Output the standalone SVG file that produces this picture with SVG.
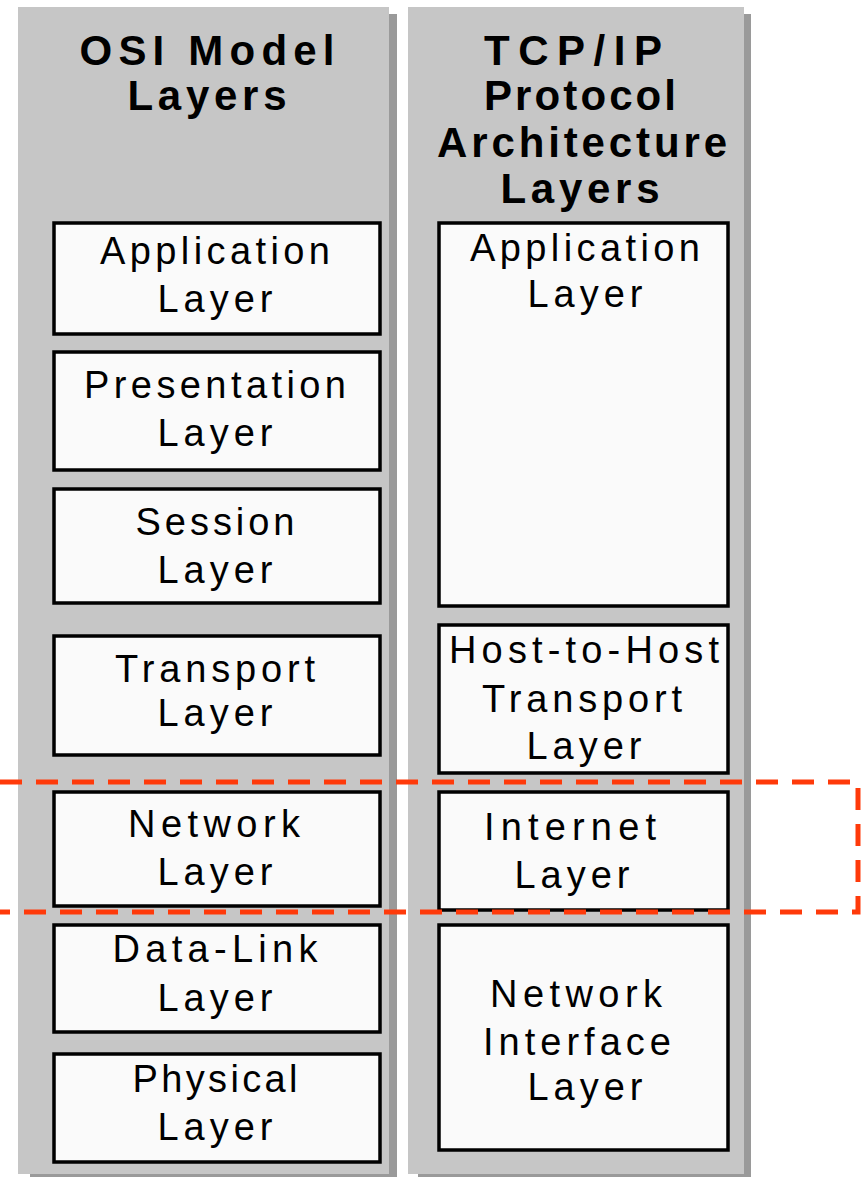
<svg xmlns="http://www.w3.org/2000/svg" width="865" height="1178" viewBox="0 0 865 1178">
<style>
.shadow{fill:#9a9a9a}
.panel{fill:#c6c6c6}
.box{fill:#fafafa;stroke:#000;stroke-width:3.5}
.t{font-family:"Liberation Sans",Arial,sans-serif;font-size:38px;fill:#000;text-anchor:middle}
.h{font-family:"Liberation Sans",Arial,sans-serif;font-size:42px;font-weight:bold;fill:#000;text-anchor:middle}
.dash{fill:none;stroke:#ff3a0a;stroke-width:5;stroke-dasharray:22 14}
</style>
<rect width="865" height="1178" fill="#fff"/>
<g id="osi-panel">
<rect class="shadow" x="30" y="14" width="367" height="1163"/>
<rect class="panel" x="18" y="7" width="371" height="1167"/>
<text class="h" x="207" y="65" textLength="255" lengthAdjust="spacing">OSI Model</text>
<text class="h" x="207" y="110" textLength="159" lengthAdjust="spacing">Layers</text>
</g>
<g id="tcp-panel">
<rect class="shadow" x="418" y="14" width="333" height="1163"/>
<rect class="panel" x="408" y="7" width="336" height="1167"/>
<text class="h" x="573" y="65" textLength="178" lengthAdjust="spacing">TCP/IP</text>
<text class="h" x="580" y="110" textLength="192" lengthAdjust="spacing">Protocol</text>
<text class="h" x="582" y="157" textLength="290" lengthAdjust="spacing">Architecture</text>
<text class="h" x="580" y="203" textLength="159" lengthAdjust="spacing">Layers</text>
</g>
<g id="osi-application">
<rect class="box" x="54" y="223" width="326" height="111"/>
<text class="t" x="215" y="264" textLength="230" lengthAdjust="spacing">Application</text>
<text class="t" x="215" y="312" textLength="115" lengthAdjust="spacing">Layer</text>
</g>
<g id="osi-presentation">
<rect class="box" x="54" y="352" width="326" height="118"/>
<text class="t" x="215" y="398" textLength="262" lengthAdjust="spacing">Presentation</text>
<text class="t" x="215" y="446" textLength="115" lengthAdjust="spacing">Layer</text>
</g>
<g id="osi-session">
<rect class="box" x="54" y="489" width="326" height="114"/>
<text class="t" x="215" y="535" textLength="159" lengthAdjust="spacing">Session</text>
<text class="t" x="215" y="583" textLength="115" lengthAdjust="spacing">Layer</text>
</g>
<g id="osi-transport">
<rect class="box" x="54" y="636" width="326" height="119"/>
<text class="t" x="215" y="682" textLength="200" lengthAdjust="spacing">Transport</text>
<text class="t" x="215" y="726" textLength="115" lengthAdjust="spacing">Layer</text>
</g>
<g id="osi-network">
<rect class="box" x="54" y="792" width="326" height="114"/>
<text class="t" x="214" y="837" textLength="172" lengthAdjust="spacing">Network</text>
<text class="t" x="215" y="885" textLength="115" lengthAdjust="spacing">Layer</text>
</g>
<g id="osi-datalink">
<rect class="box" x="54" y="925" width="326" height="107"/>
<text class="t" x="215" y="962" textLength="205" lengthAdjust="spacing">Data-Link</text>
<text class="t" x="215" y="1011" textLength="115" lengthAdjust="spacing">Layer</text>
</g>
<g id="osi-physical">
<rect class="box" x="54" y="1054" width="326" height="108"/>
<text class="t" x="215" y="1092" textLength="165" lengthAdjust="spacing">Physical</text>
<text class="t" x="215" y="1140" textLength="115" lengthAdjust="spacing">Layer</text>
</g>
<g id="tcp-application">
<rect class="box" x="439" y="223" width="289" height="383"/>
<text class="t" x="585" y="261" textLength="230" lengthAdjust="spacing">Application</text>
<text class="t" x="585" y="307" textLength="115" lengthAdjust="spacing">Layer</text>
</g>
<g id="tcp-hosttohost">
<rect class="box" x="439" y="625" width="289" height="148"/>
<text class="t" x="584" y="663" textLength="270" lengthAdjust="spacing">Host-to-Host</text>
<text class="t" x="582" y="712" textLength="200" lengthAdjust="spacing">Transport</text>
<text class="t" x="584" y="759" textLength="115" lengthAdjust="spacing">Layer</text>
</g>
<g id="tcp-internet">
<rect class="box" x="439" y="792" width="289" height="118"/>
<text class="t" x="570" y="840" textLength="172" lengthAdjust="spacing">Internet</text>
<text class="t" x="572" y="888" textLength="115" lengthAdjust="spacing">Layer</text>
</g>
<g id="tcp-networkinterface">
<rect class="box" x="439" y="925" width="289" height="225"/>
<text class="t" x="576" y="1007" textLength="172" lengthAdjust="spacing">Network</text>
<text class="t" x="577" y="1055" textLength="188" lengthAdjust="spacing">Interface</text>
<text class="t" x="585" y="1100" textLength="115" lengthAdjust="spacing">Layer</text>
</g>
<g id="connectors">
<path class="dash" d="M0 782 H858 V912 H0"/>
</g>
</svg>
